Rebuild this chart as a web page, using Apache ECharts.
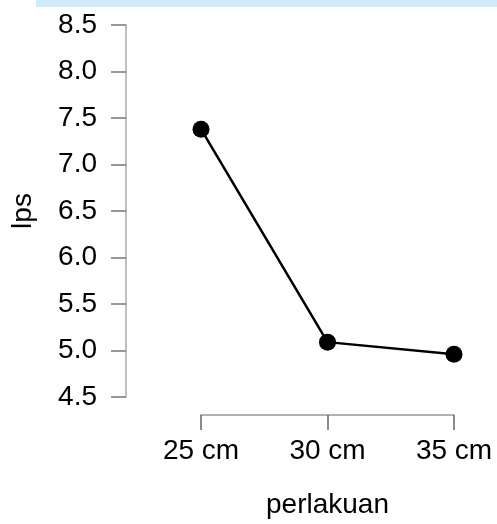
<!DOCTYPE html>
<html>
<head>
<meta charset="utf-8">
<script src="https://cdn.jsdelivr.net/npm/echarts@6/dist/echarts.min.js"></script>
<style>
html,body{margin:0;padding:0;background:#fff;}
#c{width:497px;height:524px;}
</style>
</head>
<body>
<div id="c"></div>
<script>
const categories = ['25 cm', '30 cm', '35 cm'];
const lpsValues = [7.38, 5.09, 4.96];
const yTicks = {min: 4.5, max: 8.5, interval: 0.5};

const chart = echarts.init(document.getElementById('c'), null, {renderer: 'canvas'});
const font = 'Liberation Sans, Arial, sans-serif';
chart.setOption({
  animation: false,
  backgroundColor: '#fff',
  graphic: [
    {type: 'rect', shape: {x: 36, y: 0, width: 461, height: 7}, style: {fill: '#cfeafc'}, silent: true}
  ],
  grid: {left: 201, right: 43, top: 25, bottom: 126},
  xAxis: {
    type: 'category',
    data: categories,
    boundaryGap: false,
    offset: 18,
    name: 'perlakuan',
    nameLocation: 'middle',
    nameGap: 76,
    nameTextStyle: {fontFamily: font, fontSize: 28, color: '#000'},
    axisLine: {show: true, lineStyle: {color: '#999', width: 1.5}},
    axisTick: {show: true, length: 15, lineStyle: {color: '#666', width: 1.5}},
    axisLabel: {fontFamily: font, fontSize: 28, color: '#000', margin: 22},
    splitLine: {show: false}
  },
  yAxis: {
    type: 'value',
    min: yTicks.min,
    max: yTicks.max,
    interval: yTicks.interval,
    offset: 75,
    name: 'lps',
    nameLocation: 'middle',
    nameGap: 89,
    nameTextStyle: {fontFamily: font, fontSize: 28, color: '#000'},
    axisLine: {show: true, lineStyle: {color: '#aaa', width: 1.5}},
    axisTick: {show: true, length: 15, lineStyle: {color: '#777', width: 1.5}},
    axisLabel: {fontFamily: font, fontSize: 28, color: '#000', margin: 29,
      formatter: v => v.toFixed(1)},
    splitLine: {show: false}
  },
  series: [{
    type: 'line',
    data: lpsValues,
    symbol: 'circle',
    symbolSize: 17,
    itemStyle: {color: '#000'},
    lineStyle: {color: '#000', width: 2.5}
  }]
});
</script>
</body>
</html>
